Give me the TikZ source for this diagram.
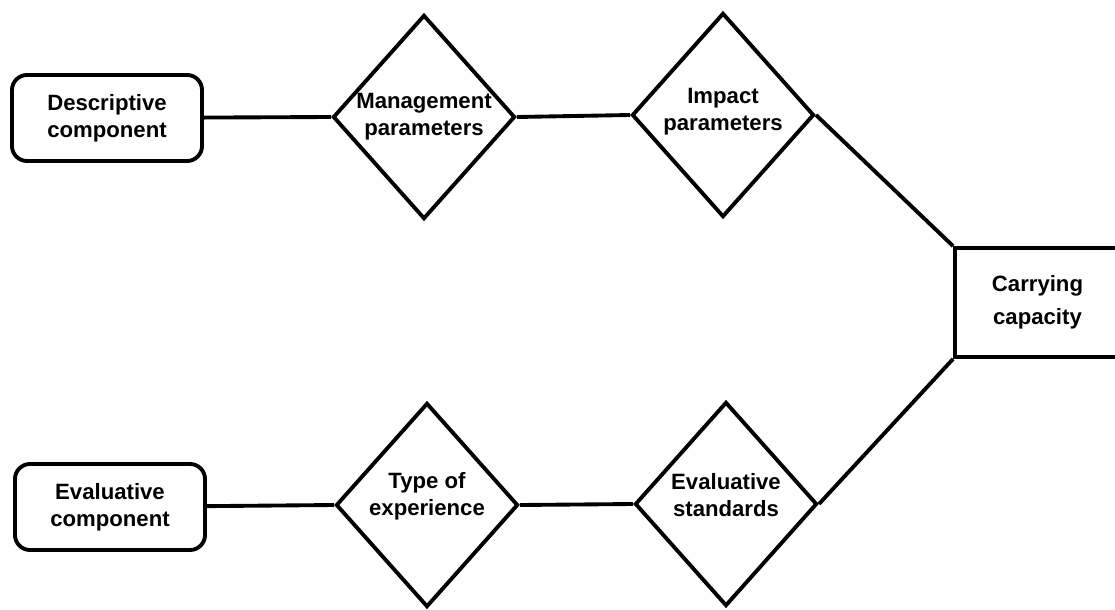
\documentclass[tikz,border=0pt]{standalone}
\usepackage{fontspec}
\setmainfont{Liberation Sans}
\usetikzlibrary{shapes.geometric}
\tikzstyle{lbl}=[font=\bfseries\fontsize{6.3}{7.7}\selectfont, align=center, inner sep=0]
\tikzstyle{comp}=[lbl, draw, rounded corners=4.3pt, minimum width=1.9cm, minimum height=0.86cm]
\tikzstyle{dia}=[diamond, draw, minimum width=1.82cm, minimum height=2.04cm, inner sep=0]
\tikzstyle{result}=[lbl, draw, minimum width=1.65cm, minimum height=1.09cm]

\begin{document}
\begin{tikzpicture}[x=0.01cm, y=-0.01cm, line width=1.1pt]
\useasboundingbox (0,0) rectangle (1115,609);

% descriptive branch
\node [comp] (desc) at (107,118) {Descriptive\\component};
\node [dia, label={[lbl]center:Management\\parameters}] (mgmt) at (424,117) {};
\node [dia, label={[lbl, yshift=1pt]center:Impact\\parameters}] (impact) at (723,115) {};

% evaluative branch
\node [comp] (evcomp) at (110,507) {Evaluative\\component};
\node [dia, label={[lbl, yshift=2.5pt]center:Type of\\experience}] (exper) at (427,505) {};
\node [dia, label={[lbl, yshift=2.5pt]center:Evaluative\\standards}] (evstd) at (726,504) {};

\node [result, font=\bfseries\fontsize{6.3}{9.3}\selectfont] (carry) at (1037.5,302.5) {Carrying\\capacity};

\draw (desc)        -- (mgmt.west);
\draw (mgmt.east)   -- (impact.west);
\draw (impact.east) -- (carry.north west);
\draw (evcomp)      -- (exper.west);
\draw (exper.east)  -- (evstd.west);
\draw (evstd.east)  -- (carry.south west);

\end{tikzpicture}
\end{document}
